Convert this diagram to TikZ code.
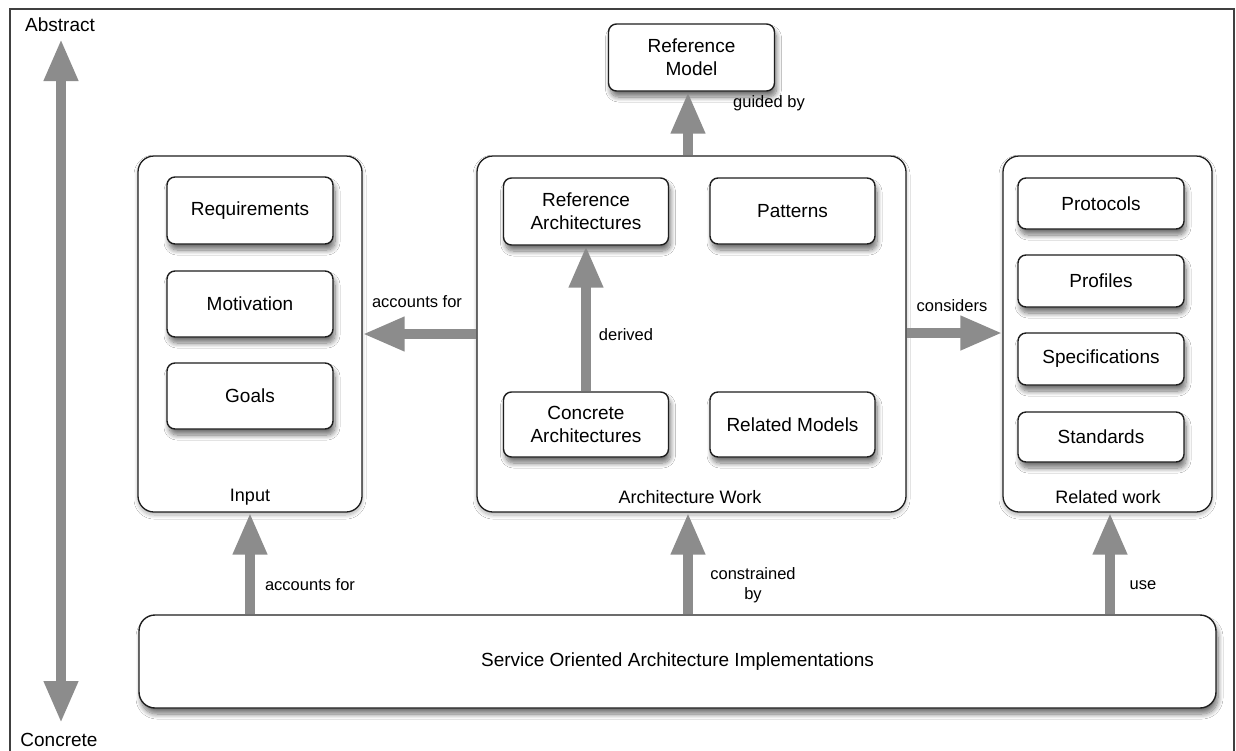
\documentclass[tikz,border=0pt]{standalone}
\usepackage{fontspec}
\setmainfont{Liberation Sans}
\usetikzlibrary{arrows.meta,shadows.blur}

\definecolor{arrowgray}{HTML}{8C8C8C}
\definecolor{edgegray}{HTML}{1E1E1E}

\tikzset{
  boxshadow/.style={blur shadow={shadow xshift=2pt, shadow yshift=-6pt,
      shadow blur radius=5pt, shadow blur steps=10, shadow opacity=55}},
  itembox/.style={draw=edgegray, line width=1.4pt, rounded corners=8pt,
      fill=white, align=center, inner sep=0pt,
      font=\fontsize{19}{23}\selectfont, boxshadow},
  groupbox/.style={draw=edgegray, line width=1.3pt, rounded corners=16pt,
      fill=white, inner sep=0pt,
      blur shadow={shadow xshift=0pt, shadow yshift=-3pt,
      shadow blur radius=4pt, shadow blur steps=8, shadow opacity=30}},
  grouplabel/.style={font=\fontsize{18}{21}\selectfont, inner sep=0pt},
  edgelabel/.style={font=\fontsize{16.5}{20}\selectfont, align=center, inner sep=0pt},
  axislabel/.style={font=\fontsize{19}{22}\selectfont, inner sep=0pt},
  bigarrow/.style={draw=arrowgray, line width=10pt,
      -{Triangle[width=32pt,length=42pt,color=arrowgray]}},
  bothways/.style={draw=arrowgray, line width=10pt,
      {Triangle[width=32pt,length=42pt,color=arrowgray]}-{Triangle[width=32pt,length=42pt,color=arrowgray]}},
}

\begin{document}
\begin{tikzpicture}[x=1pt,y=-1pt]
\useasboundingbox[fill=white] (0,0) rectangle (1236,750);

% outer frame (runs off the lower edge)
\draw[line width=1.8pt, draw=black!75] (10,760) -- (10,9) -- (1234,9) -- (1234,760);

% abstraction axis
\node[axislabel] (abstract) at (60,25) {Abstract};
\node[axislabel] (concrete-lbl) at (59,740) {Concrete};
\coordinate (axtop) at (61,39);
\coordinate (axbot) at (61,723);
\draw[bothways] (axtop) -- (axbot);

% group containers
\node[groupbox, minimum width=224pt, minimum height=356pt] (input) at (250,334) {};
\node[groupbox, minimum width=429pt, minimum height=356pt] (arch) at (691.5,334) {};
\node[groupbox, minimum width=209pt, minimum height=356pt] (related) at (1107.5,334) {};

\node[grouplabel] (input-lbl) at (250,497) {Input};
\node[grouplabel] (arch-lbl) at (690,497) {Architecture Work};
\node[grouplabel] (related-lbl) at (1108,497) {Related work};

% top model
\node[itembox, minimum width=166pt, minimum height=67pt] (refmodel) at (691.5,57.5) {Reference\\Model};

% input items
\node[itembox, minimum width=166pt, minimum height=67pt] (req) at (250,210.5) {Requirements};
\node[itembox, minimum width=166pt, minimum height=66pt] (mot) at (250,304) {Motivation};
\node[itembox, minimum width=166pt, minimum height=66pt] (goals) at (250,396) {Goals};

% architecture work items
\node[itembox, minimum width=165pt, minimum height=67pt] (refarch) at (586,211.5) {Reference\\Architectures};
\node[itembox, minimum width=165pt, minimum height=66pt] (patterns) at (792.5,211) {Patterns};
\node[itembox, minimum width=165pt, minimum height=65pt] (concarch) at (586,424.5) {Concrete\\Architectures};
\node[itembox, minimum width=165pt, minimum height=65pt] (relmod) at (792.5,424.5) {Related Models};

% related work items
\node[itembox, minimum width=166pt, minimum height=51pt] (protocols) at (1101,203.5) {Protocols};
\node[itembox, minimum width=166pt, minimum height=52pt] (profiles) at (1101,281) {Profiles};
\node[itembox, minimum width=166pt, minimum height=52pt] (specs) at (1101,359) {Specifications};
\node[itembox, minimum width=166pt, minimum height=50pt] (standards) at (1101,437) {Standards};

% implementations
\node[itembox, rounded corners=16pt, minimum width=1077pt, minimum height=93pt] (soa) at (677.5,661.5) {Service Oriented Architecture Implementations};

% connectors
\draw[bigarrow] ([xshift=-3.5pt]arch.north) -- ([xshift=-3.5pt]refmodel.south);
\draw[bigarrow] (arch.west) -- (input.east);
\draw[bigarrow] ([yshift=1pt]arch.east) -- ([yshift=1pt]related.west);
\draw[bigarrow] (concarch.north) -- (refarch.south);
\draw[bigarrow] (soa.north -| input.south) -- (input.south);
\draw[bigarrow] (soa.north -| refmodel.south) ++(-3.5,0) coordinate (soaarch) -- (soaarch |- arch.south);
\draw[bigarrow] (soa.north -| related.south) ++(2.5,0) coordinate (soarel) -- (soarel |- related.south);

% connector labels
\node[edgelabel] (lbl-guided) at (769,103) {guided by};
\node[edgelabel] (lbl-acc1) at (417,302) {accounts for};
\node[edgelabel] (lbl-derived) at (626,335) {derived};
\node[edgelabel] (lbl-cons) at (952,306) {considers};
\node[edgelabel] (lbl-acc2) at (310,585) {accounts for};
\node[edgelabel] (lbl-constr) at (753,585) {constrained\\by};
\node[edgelabel] (lbl-use) at (1143,585) {use};
\end{tikzpicture}
\end{document}
